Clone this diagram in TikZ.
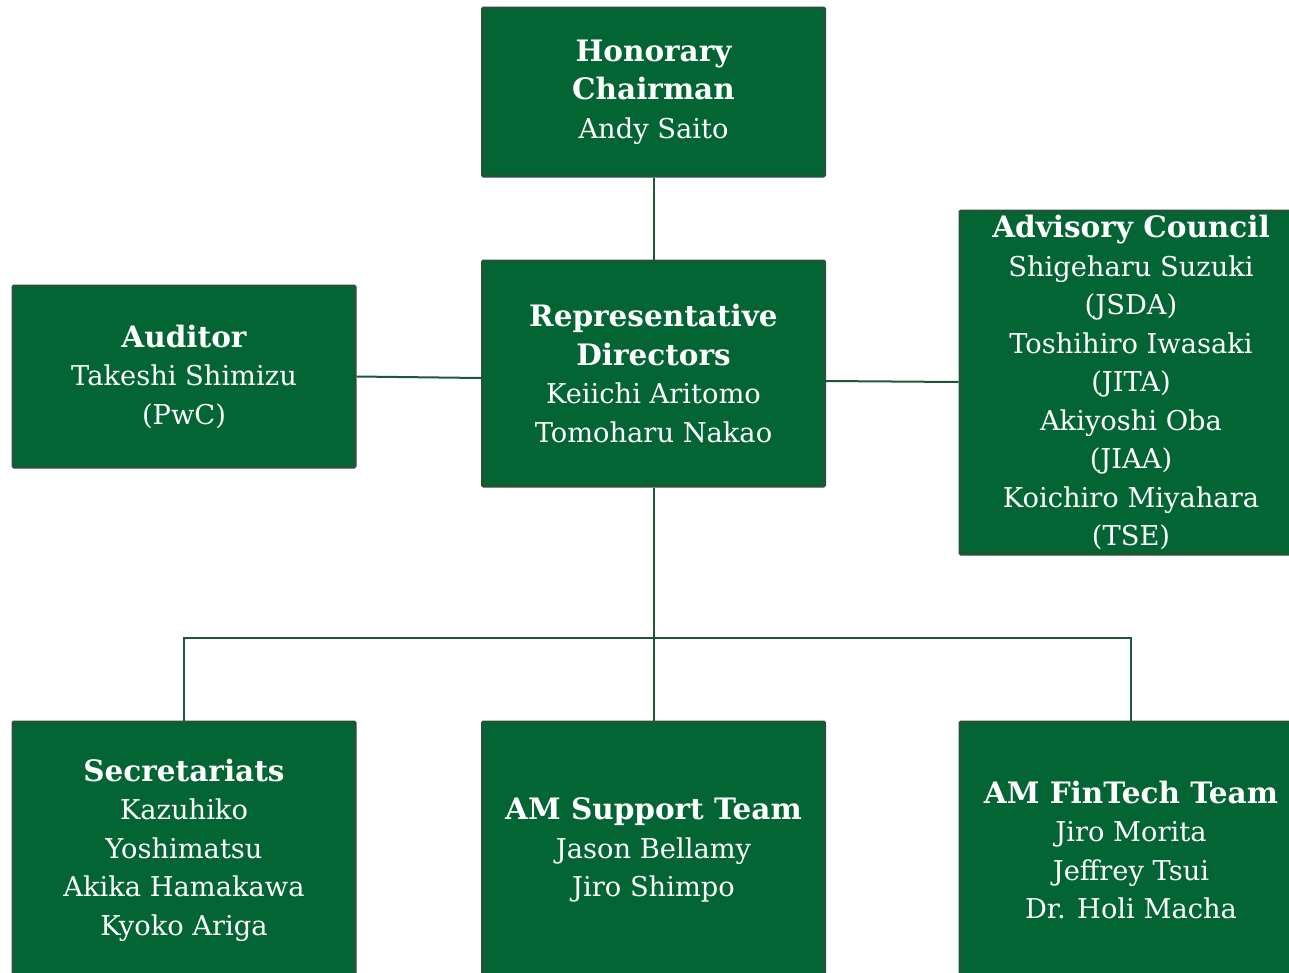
\documentclass[tikz,border=0pt]{standalone}
\usepackage{fontspec}
\setmainfont{DejaVu Serif}
\definecolor{boxfill}{HTML}{036533}
\definecolor{boxedge}{HTML}{1F5638}
\definecolor{linecol}{HTML}{1F5638}
\newcommand{\hd}[1]{{\fontsize{29.5}{38.5}\selectfont\bfseries #1}}
\begin{document}
\begin{tikzpicture}[x=1pt,y=-1pt,
  orgbox/.style={draw=boxedge, line width=3pt, fill=boxfill, text=white, align=center,
    minimum width=342pt, inner sep=0pt, rounded corners=1pt,
    font=\fontsize{27.3}{38.5}\selectfont},
  link/.style={draw=linecol, line width=2pt}]
\useasboundingbox (0,0) rectangle (1289,972);
\clip (0,0) rectangle (1289,972);
\node[orgbox, minimum height=168pt] (hon) at (653.5,92) {\hd{Honorary}\\\hd{Chairman}\\Andy Saito};
\node[orgbox, minimum height=225pt] (rep) at (653.5,373.5) {\hd{Representative}\\\hd{Directors}\\Keiichi Aritomo\\Tomoharu Nakao};
\node[orgbox, minimum height=181pt] (aud) at (184,376.5) {\hd{Auditor}\\Takeshi Shimizu\\(PwC)};
\node[orgbox, minimum height=343pt] (adv) at (1131,382.5) {\hd{Advisory Council}\\Shigeharu Suzuki\\(JSDA)\\Toshihiro Iwasaki\\(JITA)\\Akiyoshi Oba\\(JIAA)\\Koichiro Miyahara\\(TSE)};
\node[orgbox, minimum height=256pt] (sec) at (184,850) {\hd{Secretariats}\\Kazuhiko\\Yoshimatsu\\Akika Hamakawa\\Kyoko Ariga};
\node[orgbox, minimum height=256pt] (sup) at (653.5,850) {\hd{AM Support Team}\\Jason Bellamy\\Jiro Shimpo};
\node[orgbox, minimum height=256pt] (fin) at (1131,850) {\hd{AM FinTech Team}\\Jiro Morita\\Jeffrey Tsui\\Dr. Holi Macha};
\coordinate (bus) at (653.5,638);
\draw[link] (hon.south) -- (rep.north);
\draw[link] (aud.east) -- ([yshift=-4.5pt]rep.west);
\draw[link] ([yshift=-7.5pt]rep.east) -- ([yshift=0.5pt]adv.west);
\draw[link] (rep.south) -- (sup.north);
\draw[link] (sec.north) |- (bus) -| (fin.north);
\end{tikzpicture}
\end{document}
